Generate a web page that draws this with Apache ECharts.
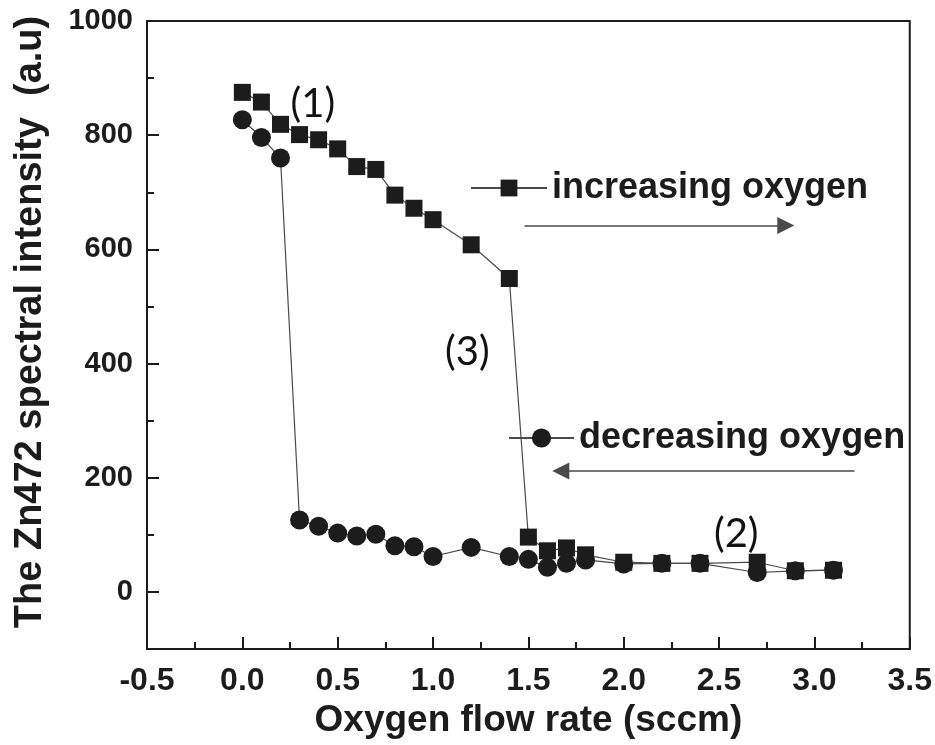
<!DOCTYPE html>
<html>
<head>
<meta charset="utf-8">
<script src="https://cdn.jsdelivr.net/npm/echarts@6/dist/echarts.min.js"></script>
<style>
html,body{margin:0;padding:0;background:#fff;}
#chart{width:935px;height:745px;}
</style>
</head>
<body>
<div id="chart"></div>
<script>
// ---- data ----
const xIncreasing = [0.0, 0.1, 0.2, 0.3, 0.4, 0.5, 0.6, 0.7, 0.8, 0.9, 1.0, 1.2, 1.4, 1.5, 1.6, 1.7, 1.8, 2.0, 2.2, 2.4, 2.7, 2.9, 3.1];
const yIncreasing = [875, 858, 819, 801, 792, 776, 745, 740, 695, 672, 652, 608, 549, 96, 72, 77, 65, 52, 50, 50, 52, 37, 38];
const xDecreasing = [3.1, 2.9, 2.7, 2.4, 2.2, 2.0, 1.8, 1.7, 1.6, 1.5, 1.4, 1.2, 1.0, 0.9, 0.8, 0.7, 0.6, 0.5, 0.4, 0.3, 0.2, 0.1, 0.0];
const yDecreasing = [38, 37, 34, 50, 50, 49, 56, 50, 43, 57, 62, 78, 62, 79, 81, 101, 98, 103, 115, 126, 760, 796, 827];
const arrowIncreasing = [[1.48, 642], [2.85, 642]];
const arrowDecreasing = [[3.21, 212], [1.67, 212]];
const yTickValues = [0, 200, 400, 600, 800, 1000];
const seriesNames = ['increasing oxygen', 'decreasing oxygen'];
const annotations = [
  {text: '(1)', x: 0.37, y: 855},
  {text: '(3)', x: 1.18, y: 420},
  {text: '(2)', x: 2.59, y: 102}
];

const ink = '#1c1c1c';
const lineGray = '#4a4a4a';
const sans = "'Liberation Sans', Arial, sans-serif";

const chart = echarts.init(document.getElementById('chart'), null, {renderer: 'canvas'});

function pairs(xs, ys) { return xs.map((x, i) => [x, ys[i]]); }

const option = {
  animation: false,
  backgroundColor: '#fff',
  grid: {left: 147, right: 22, top: 21, bottom: 96, show: true, borderColor: ink, borderWidth: 2, backgroundColor: 'transparent'},
  legend: [
    {data: [seriesNames[0]], left: 470, top: 170, padding: 0, itemWidth: 76, itemHeight: 21, itemGap: 0,
     textStyle: {fontFamily: sans, fontWeight: 'bold', fontSize: 36, color: ink}, selectedMode: false},
    {data: [seriesNames[1]], left: 508, top: 420, padding: 0, itemWidth: 65, itemHeight: 24, itemGap: 0,
     textStyle: {fontFamily: sans, fontWeight: 'bold', fontSize: 36, color: ink}, selectedMode: false}
  ],
  xAxis: {
    type: 'value', min: -0.5, max: 3.5, interval: 0.5,
    name: 'Oxygen flow rate (sccm)', nameLocation: 'middle', nameGap: 52,
    nameTextStyle: {fontFamily: sans, fontWeight: 'bold', fontSize: 37, color: ink},
    axisLine: {show: true, onZero: false, lineStyle: {color: ink, width: 2}},
    axisTick: {show: true, inside: true, length: 12, lineStyle: {color: ink, width: 2}},
    minorTick: {show: true, splitNumber: 2, length: 7, lineStyle: {color: ink, width: 2}},
    splitLine: {show: false},
    axisLabel: {margin: 16, fontFamily: sans, fontWeight: 'bold', fontSize: 32, color: ink,
      formatter: v => v.toFixed(1)}
  },
  yAxis: [
    {
      type: 'value', min: -100, max: 1000,
      name: 'The Zn472 spectral intensity  (a.u)', nameLocation: 'middle', nameGap: 97, nameRotate: 90,
      nameTextStyle: {fontFamily: sans, fontWeight: 'bold', fontSize: 38, color: ink, padding: [0, 0, 0, 26]},
      axisLine: {show: true, onZero: false, lineStyle: {color: ink, width: 2}},
      axisTick: {show: true, inside: true, length: 12, customValues: yTickValues, lineStyle: {color: ink, width: 2}},
      splitLine: {show: false},
      axisLabel: {margin: 14, customValues: yTickValues, fontFamily: sans, fontWeight: 'bold', fontSize: 29, color: ink,
        formatter: v => String(v)}
    },
    {
      type: 'value', min: -100, max: 1000, interval: 100, position: 'left',
      axisLine: {show: false, onZero: false},
      axisTick: {show: true, inside: true, length: 7, lineStyle: {color: ink, width: 2}},
      axisLabel: {show: false},
      splitLine: {show: false}
    }
  ],
  series: [
    {
      name: seriesNames[0], type: 'line', data: pairs(xIncreasing, yIncreasing),
      symbol: 'rect', symbolSize: 17, z: 3,
      itemStyle: {color: ink, borderWidth: 0},
      lineStyle: {color: lineGray, width: 1.2},
      emphasis: {disabled: true},
      markLine: {
        silent: true, symbol: ['none', 'triangle'], symbolSize: 17,
        lineStyle: {type: 'solid', color: lineGray, width: 1.5},
        itemStyle: {color: ink},
        label: {show: false},
        emphasis: {disabled: true},
        data: [
          [{coord: arrowIncreasing[0]}, {coord: arrowIncreasing[1]}],
          [{coord: arrowDecreasing[0]}, {coord: arrowDecreasing[1]}]
        ]
      }
    },
    {
      name: seriesNames[1], type: 'line', data: pairs(xDecreasing, yDecreasing),
      symbol: 'circle', symbolSize: 19, z: 2,
      itemStyle: {color: ink, borderWidth: 0},
      lineStyle: {color: lineGray, width: 1.2},
      emphasis: {disabled: true}
    }
  ]
};
chart.setOption(option);

// annotation labels placed at data positions
const g = annotations.map(a => {
  const p = chart.convertToPixel({gridIndex: 0}, [a.x, a.y]);
  return {type: 'text', x: p[0], y: p[1], style: {text: a.text, fontFamily: "Lato, 'Open Sans', sans-serif", fontSize: 40, fill: '#111', align: 'center', verticalAlign: 'middle'}};
});
chart.setOption({graphic: g});
</script>
</body>
</html>
